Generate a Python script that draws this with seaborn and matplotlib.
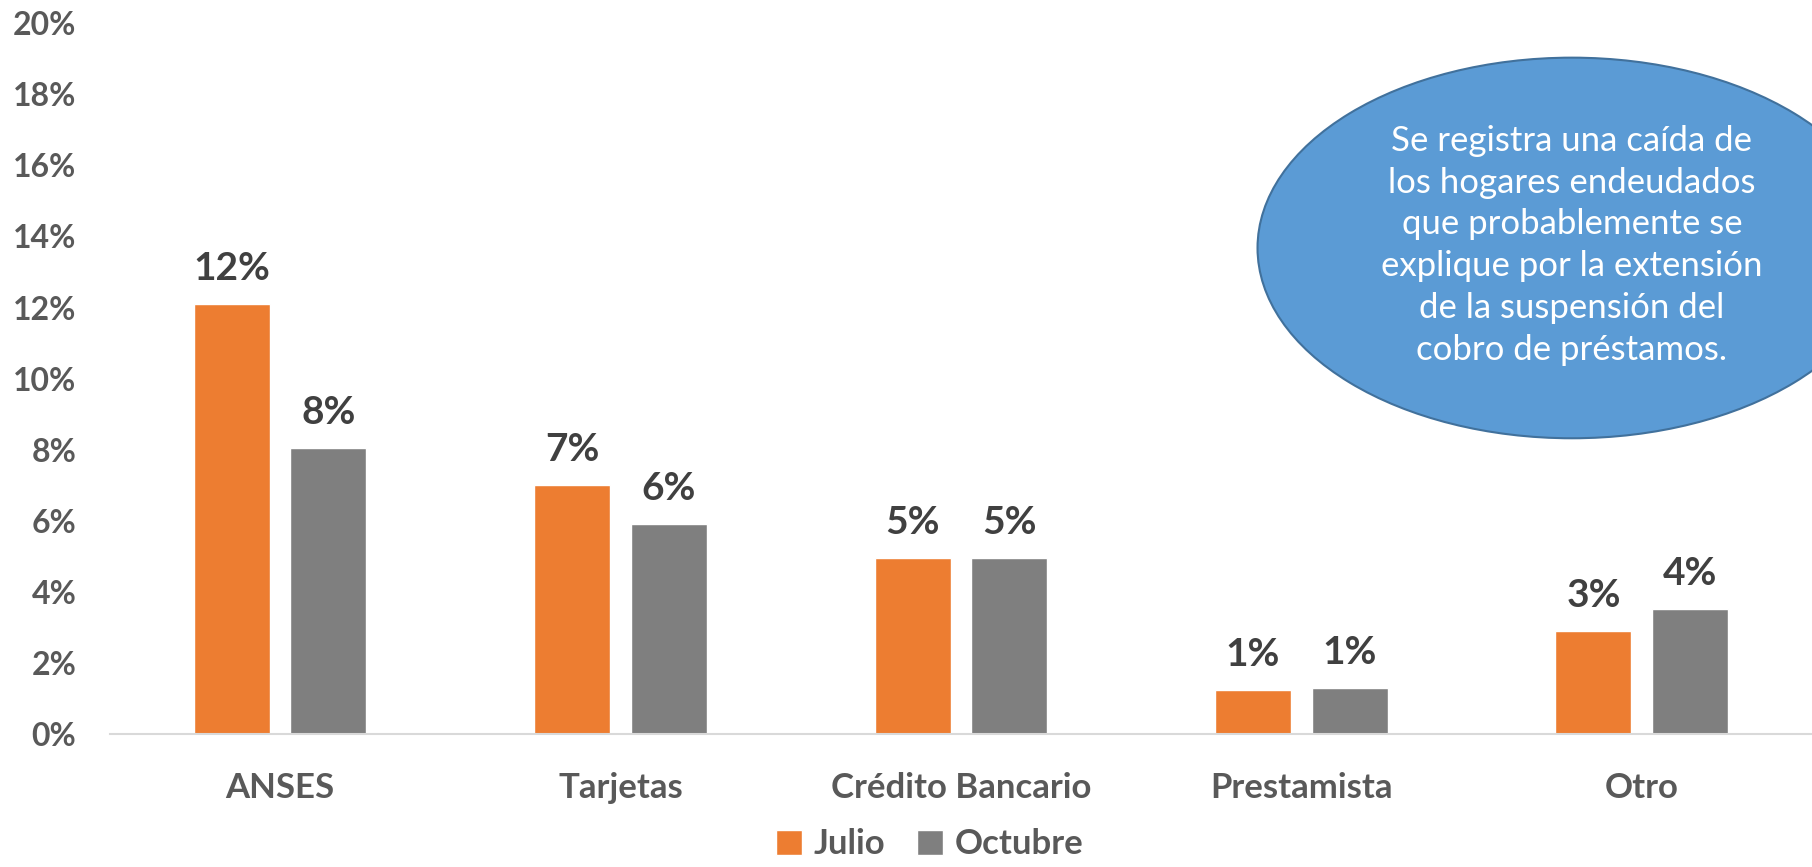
import matplotlib
matplotlib.use("Agg")
import matplotlib.pyplot as plt
from matplotlib.patches import Ellipse
import seaborn as sns
import pandas as pd

# data (percent)
categories = ["ANSES", "Tarjetas", "Crédito Bancario", "Prestamista", "Otro"]
julio = [12.1, 7.0, 4.95, 1.25, 2.9]
octubre = [8.05, 5.9, 4.95, 1.3, 3.52]
series_names = ["Julio", "Octubre"]
y_ticks = [0, 2, 4, 6, 8, 10, 12, 14, 16, 18, 20]
note = ("Se registra una caída de\nlos hogares endeudados\nque probablemente se\n"
        "explique por la extensión\nde la suspensión del\ncobro de préstamos.")

df = pd.DataFrame({
    "cat": categories * 2,
    "serie": [series_names[0]] * len(categories) + [series_names[1]] * len(categories),
    "val": julio + octubre,
})

sns.set_theme(style="white")
plt.rcParams["font.family"] = ["Lato", "DejaVu Sans"]

fig = plt.figure(figsize=(18.12, 8.67), dpi=100)
ax = fig.add_axes([0.0606, 0.1533, 0.9394, 0.82])

pal = {"Julio": "#ED7D31", "Octubre": "#7F7F7F"}
sns.barplot(data=df, x="cat", y="val", hue="serie", palette=pal,
            width=0.568, gap=0.214, saturation=1, ax=ax, legend=True)

for cont in ax.containers:
    vals = [b.get_height() for b in cont]
    ax.bar_label(cont, labels=[f"{v:.0f}%" for v in vals], padding=13,
                 fontsize=28, fontweight="bold", color="#404040")

ax.set_xlim(-0.5, 4.5)
ax.set_ylim(0, 20)
ax.set_yticks(y_ticks)
ax.set_yticklabels([f"{t}%" for t in y_ticks])
ax.set_xlabel("")
ax.set_ylabel("")
ax.tick_params(axis="y", length=0, pad=24, labelsize=23, labelcolor="#595959")
ax.tick_params(axis="x", length=0, pad=27, labelsize=25, labelcolor="#595959")
for lab in ax.get_xticklabels() + ax.get_yticklabels():
    lab.set_fontweight("bold")

for s in ["top", "right", "left"]:
    ax.spines[s].set_visible(False)
ax.spines["bottom"].set_color("#D9D9D9")
ax.spines["bottom"].set_linewidth(1.5)

handles, labels = ax.get_legend_handles_labels()
ax.get_legend().remove()
fig.legend(handles, labels, loc="center", bbox_to_anchor=(0.513, 0.026), ncol=2,
           frameon=False, handlelength=0.75, handleheight=0.75, handletextpad=0.35,
           columnspacing=0.9, prop={"weight": "bold", "size": 25},
           labelcolor="#595959", borderpad=0.1)

ell = Ellipse((0.8675, 0.714), 0.347, 0.439, transform=fig.transFigure,
              facecolor="#5B9BD5", edgecolor="#41719C", linewidth=1.5)
fig.add_artist(ell)
fig.text(0.8675, 0.717, note, ha="center", va="center", color="white",
         fontsize=25, linespacing=1.38)

fig.savefig("out.png", dpi=100)
